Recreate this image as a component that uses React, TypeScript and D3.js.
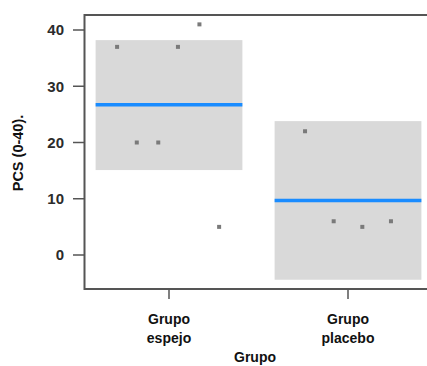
import * as d3 from 'd3'

const groups = ['Grupo espejo', 'Grupo placebo']
const groupLines = [
  ['Grupo', 'espejo'],
  ['Grupo', 'placebo'],
]
const yTicks = [0, 10, 20, 30, 40]

// box per group: upper and lower edge, and mean line
const boxHigh = [38.2, 23.8]
const boxLow = [15.1, -4.4]
const means = [26.7, 9.7]

// points: group index, jitter offset, value
const pointGroup = [0, 0, 0, 0, 0, 0, 1, 1, 1, 1]
const pointJitter = [-0.29, 0.05, 0.17, -0.18, -0.06, 0.28, -0.24, -0.08, 0.08, 0.24]
const pointValue = [37, 37, 41, 20, 20, 5, 22, 6, 5, 6]

const width = 427
const height = 366
const left = 84.5
const top = 15
const bottom = 289

const x = d3.scaleLinear().domain([1, 2]).range([169, 348])
const y = d3.scaleLinear().domain([0, 40]).range([255, 30])
const halfBox = 0.41

export default function App() {
  return (
    <svg
      width={width}
      height={height}
      style={{ position: 'absolute', left: 0, top: 0 }}
      fontFamily="Liberation Sans, Arial, sans-serif"
    >
      {groups.map((g, i) => (
        <g key={g}>
          <rect
            x={x(i + 1 - halfBox)}
            y={y(boxHigh[i])}
            width={x(i + 1 + halfBox) - x(i + 1 - halfBox)}
            height={y(boxLow[i]) - y(boxHigh[i])}
            fill="#d9d9d9"
          />
          <line
            x1={x(i + 1 - halfBox)}
            x2={x(i + 1 + halfBox)}
            y1={y(means[i])}
            y2={y(means[i])}
            stroke="#1a8cff"
            strokeWidth={3.5}
          />
        </g>
      ))}
      {pointValue.map((v, i) => (
        <rect
          key={i}
          x={x(pointGroup[i] + 1 + pointJitter[i]) - 2}
          y={y(v) - 2}
          width={4}
          height={4}
          fill="#7a7a7a"
        />
      ))}
      {/* frame */}
      <path
        d={`M${width},${top}H${left}V${bottom}H${width}`}
        fill="none"
        stroke="#555"
        strokeWidth={2}
      />
      {yTicks.map((t) => (
        <g key={t} transform={`translate(0,${y(t)})`}>
          <line x1={73} x2={left} stroke="#555" strokeWidth={1.5} />
          <text
            x={64}
            dy="0.36em"
            textAnchor="end"
            fontSize={15}
            fontWeight="bold"
            fill="#2b2b2b"
          >
            {t}
          </text>
        </g>
      ))}
      {groupLines.map((lines, i) => (
        <g key={i} transform={`translate(${x(i + 1)},0)`}>
          <line y1={bottom} y2={299} stroke="#555" strokeWidth={1.5} />
          {lines.map((l, j) => (
            <text
              key={j}
              y={324 + j * 19}
              textAnchor="middle"
              fontSize={14}
              fontWeight="bold"
              fill="#111"
            >
              {l}
            </text>
          ))}
        </g>
      ))}
      <text
        x={255}
        y={362}
        textAnchor="middle"
        fontSize={14}
        fontWeight="bold"
        fill="#111"
      >
        Grupo
      </text>
      <text
        transform="translate(23,153) rotate(-90)"
        textAnchor="middle"
        fontSize={14.5}
        fontWeight="bold"
        fill="#111"
      >
        PCS (0-40).
      </text>
    </svg>
  )
}
